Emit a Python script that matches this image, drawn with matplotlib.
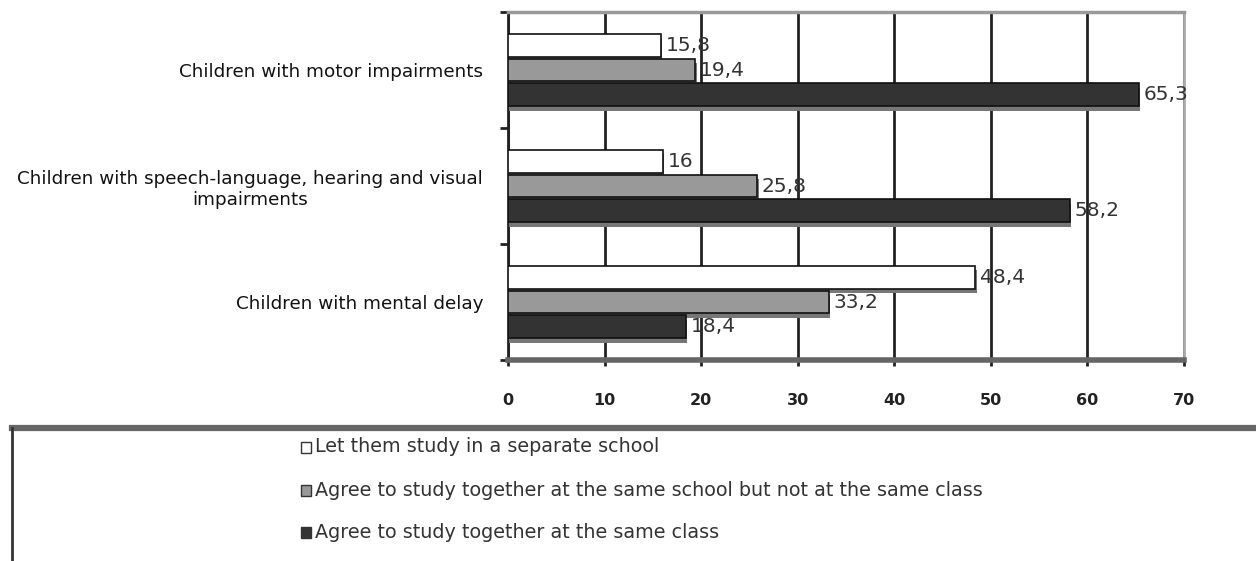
import matplotlib
matplotlib.use("Agg")
import matplotlib.pyplot as plt
import matplotlib.patheffects as pe
from matplotlib.patches import Rectangle
from matplotlib.lines import Line2D
import numpy as np

categories = [
    "Children with motor impairments",
    "Children with speech-language, hearing and visual\nimpairments",
    "Children with mental delay",
]
series_names = [
    "Let them study in a separate school",
    "Agree to study together at the same school but not at the same class",
    "Agree to study together at the same class",
]
separate_school = [15.8, 16.0, 48.4]
same_school = [19.4, 25.8, 33.2]
same_class = [65.3, 58.2, 18.4]
value_labels = [
    ["15,8", "16", "48,4"],
    ["19,4", "25,8", "33,2"],
    ["65,3", "58,2", "18,4"],
]
x_ticks = [0, 10, 20, 30, 40, 50, 60, 70]

fills = ["#ffffff", "#999999", "#333333"]
FONT = ["DejaVu Sans"]
W, H = 1256, 561

fig = plt.figure(figsize=(W / 100, H / 100), dpi=100)
ax = fig.add_axes([508 / W, 1 - 360 / H, 676 / W, 348 / H])

n = len(categories)
bar_h = 0.215
offsets = [-bar_h, 0.0, bar_h]
shadow = [pe.SimplePatchShadow(offset=(1, -3), shadow_rgbFace="#777777", alpha=1.0), pe.Normal()]

for s, vals in enumerate([separate_school, same_school, same_class]):
    ys = np.arange(n) + offsets[s]
    bars = ax.barh(ys, vals, height=bar_h * 0.92, color=fills[s],
                   edgecolor="#111111", linewidth=1.2, zorder=3)
    for b in bars:
        b.set_path_effects(shadow)
    for y, v, lab in zip(ys, vals, value_labels[s]):
        ax.text(v + 0.5, y, lab, va="center", ha="left", fontsize=14.5,
                color="#333333", family=FONT, zorder=4)

ax.set_xlim(0, 70)
ax.set_ylim(n - 0.5, -0.5)
ax.set_xticks(x_ticks)
ax.set_xticklabels([str(t) for t in x_ticks], fontsize=11.5, fontweight="bold",
                   family=FONT, color="#222222")
ax.tick_params(axis="x", length=4, width=2, color="#222222", pad=20)

ax.set_yticks(np.arange(n))
ax.set_yticklabels(categories, fontsize=13.2, family=FONT, color="#111111",
                   multialignment="center")
ax.tick_params(axis="y", which="major", length=0, pad=18)
ax.set_yticks(np.arange(n + 1) - 0.5, minor=True)
ax.tick_params(axis="y", which="minor", length=6, width=2, color="#222222")

ax.grid(axis="x", color="#222222", linewidth=2, zorder=0)
ax.set_axisbelow(True)

ax.spines["left"].set_color("#222222")
ax.spines["left"].set_linewidth(2)
ax.spines["bottom"].set_color("#666666")
ax.spines["bottom"].set_linewidth(4)
ax.spines["top"].set_color("#999999")
ax.spines["top"].set_linewidth(2.5)
ax.spines["right"].set_color("#aaaaaa")
ax.spines["right"].set_linewidth(2)

# Legend frame along the bottom of the figure
frame_top = 1 - 428 / H
frame_left = 12 / W
fig.add_artist(Line2D([frame_left, 1.0], [frame_top, frame_top],
                      transform=fig.transFigure, color="#666666", linewidth=4.5))
fig.add_artist(Line2D([frame_left, frame_left], [frame_top, 0.0],
                      transform=fig.transFigure, color="#333333", linewidth=2))

legend_y = [447, 490, 532]
for name, col, y in zip(series_names, fills, legend_y):
    yf = 1 - y / H
    fig.patches.append(Rectangle((301 / W, yf - 5.5 / H), 10 / W, 11 / H,
                                 transform=fig.transFigure, facecolor=col,
                                 edgecolor="#333333", linewidth=1))
    fig.text(315 / W, yf, name, va="center", ha="left", fontsize=13.8,
             family=FONT, color="#333333")

fig.savefig("out.png", dpi=100)
